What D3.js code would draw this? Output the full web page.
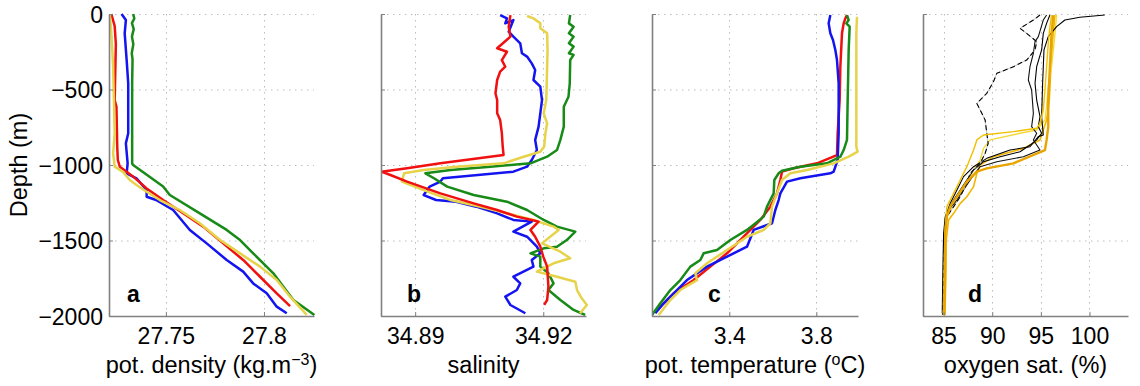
<!DOCTYPE html>
<html>
<head>
<meta charset="utf-8">
<script src="https://cdn.jsdelivr.net/npm/d3@7/dist/d3.min.js"></script>
<style>
  body { margin: 0; background: #fff; }
  svg text { font-family: "Liberation Sans", Arial, Helvetica, sans-serif; fill: #000; }
</style>
<title>Profiles</title>
</head>
<body>
<div id="workspace"></div>
<script>
// depth axis, shared by all four panels
var depthTicks = [0, -500, -1000, -1500, -2000];

// panel a: potential density, [value, depth]
var densGreen = [[27.7333,0],[27.7339,-30],[27.7327,-60],[27.7336,-100],[27.7327,-150],[27.7334,-200],[27.7326,-260],[27.733,-300],[27.7328,-460],[27.7328,-990],[27.7333,-1000],[27.7486,-1143],[27.752,-1199],[27.7673,-1320],[27.781,-1430],[27.7878,-1497],[27.7945,-1585],[27.8048,-1717],[27.8099,-1806],[27.815,-1894],[27.8257,-1993]];
var densBlue = [[27.7274,0],[27.7296,-40],[27.729,-128],[27.73,-305],[27.7308,-459],[27.7308,-790],[27.7296,-857],[27.7305,-989],[27.73,-1055],[27.735,-1088],[27.7402,-1166],[27.7402,-1210],[27.745,-1232],[27.7537,-1298],[27.7622,-1430],[27.7708,-1519],[27.781,-1629],[27.7894,-1706],[27.7945,-1784],[27.8014,-1850],[27.8065,-1938],[27.8116,-1982]];
var densRed = [[27.7222,0],[27.7239,-80],[27.7245,-200],[27.7239,-570],[27.7248,-614],[27.7252,-879],[27.7255,-967],[27.7265,-1011],[27.73,-1044],[27.7333,-1077],[27.7402,-1155],[27.7486,-1232],[27.7588,-1320],[27.769,-1408],[27.7792,-1519],[27.7894,-1629],[27.798,-1740],[27.8065,-1850],[27.8133,-1934]];
var densYellow = [[27.7214,0],[27.7222,-128],[27.7231,-349],[27.7239,-790],[27.7231,-923],[27.7239,-1011],[27.728,-1044],[27.7316,-1099],[27.735,-1132],[27.7402,-1177],[27.7469,-1232],[27.7571,-1298],[27.7673,-1386],[27.7776,-1497],[27.7878,-1585],[27.798,-1673],[27.8065,-1762],[27.8133,-1872],[27.8218,-1993]];

// panel b: salinity
var salGreen = [[34.9263,-7],[34.926,-62],[34.9271,-84],[34.926,-128],[34.9271,-150],[34.926,-194],[34.9271,-216],[34.926,-260],[34.9271,-271],[34.9263,-305],[34.9262,-459],[34.9259,-548],[34.9248,-614],[34.9248,-746],[34.924,-834],[34.9232,-901],[34.9209,-945],[34.917,-989],[34.9076,-1011],[34.8983,-1033],[34.8924,-1055],[34.8944,-1088],[34.8975,-1143],[34.9037,-1199],[34.9115,-1243],[34.9162,-1298],[34.9201,-1364],[34.9232,-1408],[34.9275,-1441],[34.9255,-1497],[34.9232,-1541],[34.9201,-1552],[34.917,-1585],[34.9193,-1607],[34.9193,-1673],[34.9212,-1717],[34.9224,-1784],[34.9212,-1828],[34.924,-1894],[34.9271,-1960],[34.9298,-1993]];
var salBlue = [[34.9099,-7],[34.9115,-29],[34.9111,-62],[34.913,-40],[34.9119,-117],[34.913,-150],[34.9146,-194],[34.915,-260],[34.9162,-282],[34.9173,-327],[34.9181,-371],[34.9177,-437],[34.9193,-481],[34.9197,-570],[34.9193,-658],[34.9189,-746],[34.9181,-834],[34.9185,-901],[34.9173,-967],[34.9162,-1011],[34.913,-1044],[34.8965,-1088],[34.8959,-1110],[34.8934,-1143],[34.892,-1199],[34.8949,-1232],[34.8996,-1243],[34.9043,-1276],[34.9092,-1320],[34.913,-1364],[34.9173,-1375],[34.913,-1441],[34.9162,-1475],[34.9185,-1541],[34.9193,-1585],[34.9173,-1629],[34.9177,-1673],[34.913,-1740],[34.9146,-1784],[34.9138,-1828],[34.9111,-1872],[34.9123,-1927],[34.9158,-1982]];
var salRed = [[34.9123,-7],[34.9119,-84],[34.9123,-150],[34.9092,-227],[34.9115,-250],[34.9103,-305],[34.9111,-349],[34.9099,-382],[34.9092,-437],[34.9088,-525],[34.9092,-570],[34.9092,-658],[34.9099,-702],[34.9103,-790],[34.9105,-879],[34.9107,-934],[34.8959,-989],[34.8881,-1022],[34.8821,-1044],[34.8842,-1066],[34.8881,-1110],[34.8959,-1188],[34.9037,-1254],[34.9092,-1298],[34.9138,-1342],[34.9173,-1364],[34.9189,-1375],[34.917,-1430],[34.9181,-1475],[34.9193,-1541],[34.92,-1607],[34.9209,-1673],[34.9212,-1806],[34.9209,-1894],[34.9202,-1927]];
var salYellow = [[34.9162,-13],[34.9177,-29],[34.9193,-62],[34.9193,-95],[34.9209,-128],[34.921,-238],[34.9209,-349],[34.9207,-570],[34.9201,-658],[34.9209,-724],[34.9205,-790],[34.9202,-879],[34.9193,-912],[34.9154,-945],[34.9107,-989],[34.8998,-1011],[34.892,-1033],[34.8874,-1055],[34.8869,-1110],[34.892,-1166],[34.8983,-1232],[34.9053,-1276],[34.9115,-1320],[34.9177,-1364],[34.9224,-1408],[34.9236,-1430],[34.9216,-1475],[34.9197,-1519],[34.924,-1574],[34.9263,-1618],[34.9224,-1651],[34.9185,-1706],[34.9232,-1740],[34.9275,-1773],[34.9279,-1828],[34.929,-1883],[34.9302,-1927],[34.9286,-1982]];

// panel c: potential temperature
var tempGreen = [[3.941,-7],[3.9487,-40],[3.938,-62],[3.9533,-84],[3.9487,-238],[3.9441,-570],[3.941,-834],[3.9257,-901],[3.9104,-945],[3.849,-989],[3.7264,-1011],[3.6422,-1038],[3.6268,-1055],[3.6069,-1099],[3.6038,-1188],[3.5732,-1276],[3.5579,-1342],[3.4812,-1430],[3.4046,-1497],[3.3433,-1563],[3.282,-1585],[3.2667,-1629],[3.2207,-1673],[3.1747,-1762],[3.1287,-1828],[3.0828,-1916],[3.0444,-1993]];
var tempBlue = [[3.8644,-7],[3.8567,-62],[3.8644,-128],[3.8766,-172],[3.8874,-238],[3.895,-305],[3.9027,-459],[3.9027,-790],[3.898,-967],[3.8797,-1044],[3.8644,-1055],[3.7264,-1088],[3.6651,-1110],[3.6345,-1188],[3.6268,-1232],[3.6115,-1298],[3.5962,-1386],[3.5119,-1430],[3.4812,-1541],[3.3893,-1607],[3.2973,-1673],[3.2054,-1762],[3.0981,-1916],[3.0598,-1982]];
var tempRed = [[3.941,-7],[3.9334,-29],[3.9257,-62],[3.918,-128],[3.9104,-349],[3.9073,-570],[3.898,-790],[3.895,-934],[3.803,-989],[3.6958,-1022],[3.6422,-1044],[3.6345,-1099],[3.6192,-1188],[3.5885,-1276],[3.5425,-1364],[3.4659,-1475],[3.3893,-1585],[3.3126,-1673],[3.236,-1762],[3.144,-1850],[3.0751,-1949]];
var tempYellow = [[3.987,-18],[3.9839,-128],[3.9839,-570],[3.9839,-879],[3.99,-912],[3.9487,-945],[3.8797,-989],[3.7571,-1033],[3.6805,-1055],[3.6422,-1099],[3.6192,-1188],[3.5962,-1276],[3.5885,-1386],[3.5579,-1430],[3.4812,-1475],[3.3893,-1563],[3.2973,-1651],[3.2437,-1717],[3.2513,-1762],[3.1747,-1828],[3.1287,-1894],[3.0751,-1993]];

// panel d: oxygen saturation, black casts then yellow/orange casts
var oxyK1 = [[101.57,-7],[99.01,-22],[97.47,-40],[96.62,-84],[95.76,-150],[95.32,-238],[95.18,-459],[95.08,-680],[95.25,-801],[94.74,-812],[93.88,-879],[91.83,-901],[89.44,-956],[88.08,-1011],[87.05,-1077],[86.37,-1166],[85.68,-1254],[85.17,-1342],[85.0,-1453],[84.93,-1673],[84.86,-1982]];
var oxyK2 = [[94.91,-7],[94.23,-40],[92.86,-95],[93.54,-128],[94.57,-183],[94.40,-238],[93.54,-305],[92.18,-349],[90.47,-393],[90.13,-448],[89.44,-525],[88.42,-592],[88.76,-636],[88.93,-658],[89.27,-702],[89.44,-790],[89.58,-857],[89.27,-923],[88.76,-989],[87.73,-1055],[87.39,-1121],[86.71,-1210],[86.03,-1276],[85.34,-1342],[85.17,-1408],[85.07,-1563],[85.0,-1784],[84.93,-1993]];
var oxyK3 = [[95.59,-7],[95.25,-40],[94.74,-150],[94.40,-183],[94.23,-260],[93.88,-349],[93.71,-437],[94.05,-503],[94.23,-658],[94.05,-746],[94.57,-790],[94.23,-834],[94.91,-901],[93.20,-945],[90.47,-978],[88.76,-1011],[87.73,-1099],[87.05,-1166],[86.37,-1232],[85.51,-1298],[85.17,-1408],[85.07,-1585],[85.0,-1806],[84.93,-1993]];
var oxyK4 = [[95.93,-7],[95.59,-62],[95.25,-128],[95.08,-238],[94.57,-349],[94.40,-459],[94.57,-570],[94.91,-680],[94.74,-746],[95.08,-790],[94.57,-834],[93.88,-868],[92.86,-912],[90.81,-945],[89.10,-978],[88.08,-1033],[87.39,-1099],[86.71,-1166],[86.03,-1232],[85.34,-1320],[85.07,-1453],[85.0,-1673],[84.97,-1993]];
var oxyY1 = [[96.10,-7],[95.93,-84],[95.76,-194],[95.59,-349],[95.42,-503],[95.25,-636],[94.91,-724],[94.57,-757],[92.18,-779],[89.10,-801],[88.42,-834],[88.08,-901],[87.39,-1011],[86.71,-1099],[86.03,-1188],[85.34,-1276],[85.17,-1408],[85.07,-1673],[85.0,-1993]];
var oxyY2 = [[96.62,-7],[96.45,-128],[96.28,-238],[96.10,-349],[95.76,-481],[95.59,-614],[95.42,-702],[94.57,-768],[92.86,-790],[89.78,-834],[89.10,-890],[88.76,-967],[88.08,-1033],[87.39,-1121],[86.71,-1188],[86.37,-1232],[86.03,-1276],[85.34,-1320],[85.17,-1453],[85.07,-1673],[84.93,-1993]];
var oxyY3 = [[96.28,-7],[96.10,-128],[95.93,-349],[95.76,-570],[95.76,-746],[95.59,-834],[95.42,-901],[92.18,-989],[89.44,-1022],[88.42,-1044],[87.39,-1110],[86.37,-1210],[85.68,-1276],[85.34,-1342],[85.17,-1453],[85.17,-1673],[85.07,-1993]];
var oxyY4 = [[96.45,-7],[96.21,-172],[96.0,-393],[95.87,-570],[95.59,-702],[95.25,-768],[94.91,-834],[93.20,-890],[90.13,-945],[88.76,-1000],[88.42,-1055],[88.08,-1143],[87.39,-1210],[86.71,-1254],[86.03,-1320],[85.51,-1364],[85.27,-1497],[85.21,-1784],[85.14,-1993]];

var densTicks = [27.75, 27.8];
var salTicks = [34.89, 34.92];
var tempTicks = [3.4, 3.8];
var oxyTicks = [85, 90, 95, 100];

var C = { green: "#178a17", blue: "#1414f0", red: "#f01010", yellow: "#e6d34a" };

var W = 1140, H = 386, yTop = 14, yBottom = 316;
var tickFont = 23, labelFont = 23.5;

var panels = [
  { letter: "a", x0: 109, x1: 314, domain: [27.721, 27.8255], ticks: densTicks, letterDx: 18,
    label: [["pot. density (kg.m", 0], ["\u22123", 1], [")", 0]],
    series: [[densGreen, C.green], [densBlue, C.blue], [densRed, C.red], [densYellow, C.yellow]] },
  { letter: "b", x0: 381, x1: 586, domain: [34.882, 34.930], ticks: salTicks, letterDx: 26,
    label: [["salinity", 0]],
    series: [[salBlue, C.blue], [salGreen, C.green], [salYellow, C.yellow], [salRed, C.red]] },
  { letter: "c", x0: 652, x1: 858, domain: [3.0444, 3.9916], ticks: tempTicks, letterDx: 56,
    label: [["pot. temperature (", 0], ["o", 1], ["C)", 0]],
    series: [[tempRed, C.red], [tempBlue, C.blue], [tempGreen, C.green], [tempYellow, C.yellow]] },
  { letter: "d", x0: 923, x1: 1128, domain: [82.88, 103.96], ticks: oxyTicks, letterDx: 45,
    label: [["oxygen sat. (%)", 0]],
    series: [[oxyY4, "#f2b600", 1.6], [oxyY2, "#f4d93a", 1.4], [oxyK1, "#000", 1.1], [oxyK3, "#111", 1.1],
             [oxyK4, "#000", 1.1], [oxyK2, "#000", 1.1, "5,3"], [oxyY1, "#f0c000", 1.4], [oxyY3, "#e9a400", 2.4]] }
];

var svg = d3.select("#workspace").append("svg")
  .attr("width", W).attr("height", H);
svg.append("rect").attr("width", W).attr("height", H).attr("fill", "#fff");

var y = d3.scaleLinear().domain([0, -2000]).range([yTop, yBottom]);

function drawPanel(p, i) {
  var x = d3.scaleLinear().domain(p.domain).range([p.x0, p.x1]);
  var g = svg.append("g");

  // dotted grid
  var grid = g.append("g").attr("stroke", "#bdbdbd").attr("stroke-width", 1)
    .attr("stroke-dasharray", "1.5,4.5");
  grid.selectAll("line.h").data(depthTicks.slice(0, 4)).join("line")
    .attr("x1", p.x0).attr("x2", p.x1)
    .attr("y1", function(d){ return y(d) + 0.5; }).attr("y2", function(d){ return y(d) + 0.5; });
  grid.selectAll("line.v").data(p.ticks).join("line")
    .attr("x1", function(d){ return Math.round(x(d)) + 0.5; }).attr("x2", function(d){ return Math.round(x(d)) + 0.5; })
    .attr("y1", yTop).attr("y2", yBottom);

  // profiles
  var line = d3.line()
    .x(function(d){ return x(d[0]); })
    .y(function(d){ return y(d[1]); });
  var clip = "clip" + i;
  svg.append("clipPath").attr("id", clip).append("rect")
    .attr("x", p.x0).attr("y", yTop - 3).attr("width", p.x1 - p.x0 + 3).attr("height", yBottom - yTop + 3);
  var lines = g.append("g").attr("clip-path", "url(#" + clip + ")");
  p.series.forEach(function(s){
    if (s[3]) {
      lines.append("path").attr("d", line(s[0])).attr("fill", "none")
        .attr("stroke", "#c4c4c4").attr("stroke-width", 1);
    }
    lines.append("path").attr("d", line(s[0]))
      .attr("fill", "none")
      .attr("stroke", s[1])
      .attr("stroke-width", s[2] || 2.5)
      .attr("stroke-dasharray", s[3] || null)
      .attr("stroke-linejoin", "round");
  });

  // axes (left + bottom only)
  var yAxis = d3.axisLeft(y).tickValues(depthTicks).tickSizeInner(-4).tickSizeOuter(0)
    .tickFormat(i === 0 ? d3.format("d") : "");
  var ya = g.append("g").attr("transform", "translate(" + p.x0 + ",0)").call(yAxis);
  var xAxis = d3.axisBottom(x).tickValues(p.ticks).tickSizeInner(-4).tickSizeOuter(0)
    .tickFormat(function(d){ return String(d); });
  var xa = g.append("g").attr("transform", "translate(0," + yBottom + ")").call(xAxis);
  [ya, xa].forEach(function(a){
    a.select(".domain").attr("stroke", "#808080").attr("stroke-width", 1.6);
    a.selectAll(".tick line").attr("stroke", "#808080");
    a.selectAll(".tick text").attr("font-size", tickFont).attr("fill", "#000");
  });
  ya.selectAll(".tick text").attr("x", -6).attr("dy", "0.36em");
  xa.selectAll(".tick text").attr("y", 11).attr("dy", "0.75em");

  // x label
  var t = g.append("text").attr("x", (p.x0 + p.x1) / 2).attr("y", 373)
    .attr("text-anchor", "middle").attr("font-size", labelFont);
  p.label.forEach(function(part){
    var ts = t.append("tspan").text(part[0]);
    if (part[1]) ts.attr("font-size", 16).attr("baseline-shift", "50%");
  });

  // panel letter
  g.append("text").attr("x", p.x0 + p.letterDx).attr("y", 302)
    .attr("font-size", 23).attr("font-weight", "bold").text(p.letter);
}

panels.forEach(drawPanel);

svg.append("text")
  .attr("transform", "translate(27," + y(-1000) + ") rotate(-90)")
  .attr("text-anchor", "middle").attr("font-size", labelFont)
  .text("Depth (m)");
</script>
</body>
</html>
